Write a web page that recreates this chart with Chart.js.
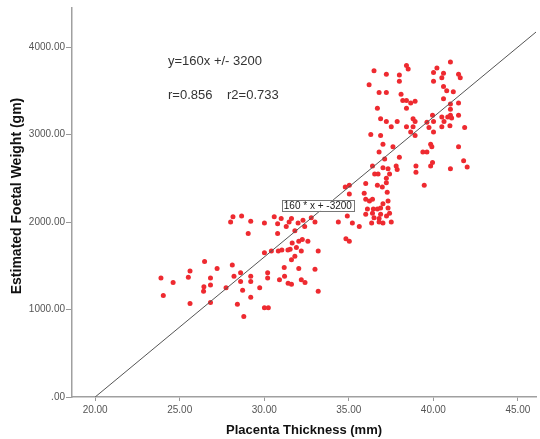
<!DOCTYPE html>
<html>
<head>
<meta charset="utf-8">
<script src="https://cdn.jsdelivr.net/npm/chart.js@4/dist/chart.umd.min.js"></script>
<style>
  html, body { margin: 0; padding: 0; background: #fff; }
  #wrap { width: 540px; height: 439px; }
</style>
</head>
<body>
<div id="wrap"><canvas id="chart"></canvas></div>
<script>
// ---- Data ----
const thickness = [
  28.15, 28.66, 28.01, 29.20, 30.01, 30.59, 31.00, 30.79, 31.47, 31.61,
  32.00, 32.29, 32.39, 32.78, 33.00, 34.38, 31.30, 29.05, 30.79, 31.81,
  34.83, 31.65, 32.04, 32.25, 32.58, 31.90, 31.53, 32.19, 30.01, 30.42,
  30.83, 31.04, 31.40, 33.19, 31.81, 31.61, 26.47, 28.11, 27.21, 25.61,
  31.18, 32.04, 33.00, 23.89, 24.61, 25.51, 26.82, 28.21, 28.60, 29.20,
  30.20, 30.20, 31.20, 30.90, 32.19, 32.41, 31.41, 31.61, 28.60, 29.20,
  26.43, 26.82, 26.41, 27.74, 28.72, 29.73, 33.19, 24.03, 29.20, 25.61,
  26.82, 28.41, 30.01, 30.24, 28.79,
  36.49, 37.22, 37.99, 38.41, 38.51, 37.99, 36.20, 36.79, 37.22, 38.09,
  38.19, 38.41, 38.66, 38.92, 38.41, 36.69, 36.88, 37.22, 37.51, 37.86,
  38.80, 38.92, 38.41, 38.80, 38.66, 38.92, 36.30, 36.88, 37.02, 37.61,
  36.79, 37.99, 37.12, 36.40, 37.02, 37.32, 37.80, 37.86, 36.53, 36.73,
  37.41, 37.22, 37.22, 36.00, 36.69, 36.98, 37.27, 35.91, 36.00, 36.40,
  35.03, 34.79, 35.03, 37.02, 37.32, 36.88, 38.97, 38.97, 39.46, 39.84,
  39.95, 39.38, 39.62, 39.84, 39.91, 40.01, 39.74, 39.62, 39.95, 40.01,
  40.50, 40.63, 40.50, 40.98, 40.85, 41.08, 41.01, 41.49, 41.01, 41.49,
  41.01, 40.60, 40.79, 41.18, 40.60, 40.01, 40.50, 40.60, 40.01, 40.21,
  41.01, 41.49, 41.59, 41.85, 41.49, 41.79, 42.00, 41.01,
  34.91, 35.21, 35.62, 35.03, 36.00, 36.10, 36.45, 36.69, 37.32, 36.22,
  36.40, 36.88, 37.23, 37.41, 36.49, 36.79, 36.35, 36.79, 37.02, 37.51
];
const weight = [
  2060, 2070, 2000, 2010, 1990, 2060, 2040, 1980, 2000, 2040,
  1990, 2020, 1950, 2050, 2000, 2000, 1950, 1870, 1870, 1900,
  1810, 1760, 1780, 1800, 1780, 1710, 1690, 1670, 1650, 1670,
  1670, 1680, 1680, 1670, 1610, 1570, 1550, 1510, 1470, 1440,
  1480, 1470, 1460, 1360, 1310, 1370, 1360, 1380, 1420, 1380,
  1420, 1360, 1380, 1340, 1340, 1310, 1300, 1290, 1320, 1320,
  1260, 1280, 1210, 1250, 1220, 1250, 1210, 1160, 1140, 1070,
  1080, 1060, 1020, 1020, 920,
  3730, 3690, 3680, 3790, 3750, 3610, 3570, 3480, 3480, 3460,
  3390, 3390, 3360, 3380, 3300, 3300, 3180, 3150, 3090, 3150,
  3180, 3150, 3090, 3090, 3030, 2990, 3000, 2990, 2890, 2860,
  2800, 2740, 2720, 2640, 2620, 2610, 2640, 2600, 2550, 2550,
  2550, 2500, 2450, 2440, 2420, 2400, 2340, 2330, 2260, 2260,
  2420, 2400, 2320, 2210, 2240, 2160, 2640, 2570, 2420, 2640,
  2680, 2800, 2800, 2890, 2860, 3030, 3080, 3140, 3220, 3150,
  3200, 3150, 3090, 3100, 3200, 3190, 3220, 3220, 3290, 3360,
  3350, 3410, 3500, 3490, 3550, 3610, 3650, 3700, 3710, 3760,
  3830, 3690, 3650, 3080, 2860, 2700, 2630, 2610,
  2070, 1990, 1950, 1780, 2090, 2150, 2150, 2150, 2160, 2240,
  2100, 2090, 2070, 2100, 2050, 2040, 1990, 2000, 1990, 2000
];
const xTicks = [20, 25, 30, 35, 40, 45];
const yTicks = [0, 1000, 2000, 3000, 4000];

// fit line  y = slope * x + intercept
const slope = 160;
const intercept = -3200;
const fitText = 'y=160x +/- 3200';
const rText = 'r=0.856';
const r2Text = 'r2=0.733';
const lineLabel = '160 * x + -3200';

const X_MIN = 18.63, X_MAX = 46.07, Y_MAX = 4446;
const FONT = '"Liberation Sans", Arial, sans-serif';

const points = thickness.map((x, i) => ({ x, y: weight[i] }));
const fitLine = [-intercept / slope, X_MAX].map(x => ({ x, y: slope * x + intercept }));

// texte libre : équation, r, étiquette de la droite, titre Y
const annotations = {
  id: 'annotations',
  afterDatasetsDraw(chart) {
    const { ctx, scales: { x, y } } = chart;
    ctx.save();
    ctx.textBaseline = 'middle';

    ctx.font = `13px ${FONT}`;
    ctx.fillStyle = '#333';
    ctx.textAlign = 'left';
    ctx.fillText(fitText, 168, 61);
    ctx.fillText(rText, 168, 95);
    ctx.fillText(r2Text, 227, 95);

    const cx = x.getPixelForValue(33.17);
    const cy = y.getPixelForValue(2190);
    ctx.font = `10px ${FONT}`;
    const w = ctx.measureText(lineLabel).width + 4;
    const h = 11;
    ctx.fillStyle = '#fff';
    ctx.fillRect(cx - w / 2, cy - h / 2, w, h);
    ctx.strokeStyle = '#777';
    ctx.lineWidth = 1;
    ctx.strokeRect(Math.round(cx - w / 2) + 0.5, Math.round(cy - h / 2) + 0.5, Math.round(w), h);
    ctx.fillStyle = '#222';
    ctx.textAlign = 'center';
    ctx.fillText(lineLabel, cx, cy + 0.5);

    ctx.translate(17, 196);
    ctx.rotate(-Math.PI / 2);
    ctx.font = `bold 14px ${FONT}`;
    ctx.fillStyle = '#111';
    ctx.fillText('Estimated Foetal Weight (gm)', 0, 0);
    ctx.restore();
  }
};

new Chart(document.getElementById('chart'), {
  type: 'scatter',
  data: {
    datasets: [
      {
        data: fitLine,
        showLine: true,
        borderColor: '#555',
        borderWidth: 1,
        pointRadius: 0
      },
      {
        data: points,
        pointRadius: 2.5,
        pointBackgroundColor: '#ee2a30',
        pointBorderWidth: 0
      }
    ]
  },
  options: {
    responsive: true,
    maintainAspectRatio: false,
    animation: false,
    layout: { padding: { top: 8, right: 0, bottom: 0, left: 0 } },
    plugins: {
      legend: { display: false },
      tooltip: { enabled: false }
    },
    scales: {
      x: {
        type: 'linear',
        min: X_MIN,
        max: X_MAX,
        afterBuildTicks: s => { s.ticks = xTicks.map(v => ({ value: v })); },
        afterFit: s => { s.height = 42; },
        ticks: {
          font: { family: FONT, size: 10 },
          color: '#555',
          padding: 3,
          callback: v => v.toFixed(2)
        },
        grid: { drawOnChartArea: false, drawTicks: true, tickLength: 4, color: '#999' },
        border: { display: true, color: '#a0a0a0', width: 1.5 },
        title: {
          display: true,
          text: 'Placenta Thickness (mm)',
          font: { family: FONT, size: 13, weight: 'bold' },
          color: '#111',
          padding: { top: 0, bottom: 1 }
        }
      },
      y: {
        type: 'linear',
        min: 0,
        max: Y_MAX,
        afterBuildTicks: s => { s.ticks = yTicks.map(v => ({ value: v })); },
        afterFit: s => { s.width = 72; },
        ticks: {
          font: { family: FONT, size: 10 },
          color: '#555',
          padding: 1,
          callback: v => v === 0 ? '.00' : v.toFixed(2)
        },
        grid: { drawOnChartArea: false, drawTicks: true, tickLength: 6, color: '#999' },
        border: { display: true, color: '#a0a0a0', width: 1.5 }
      }
    }
  },
  plugins: [annotations]
});
</script>
</body>
</html>
